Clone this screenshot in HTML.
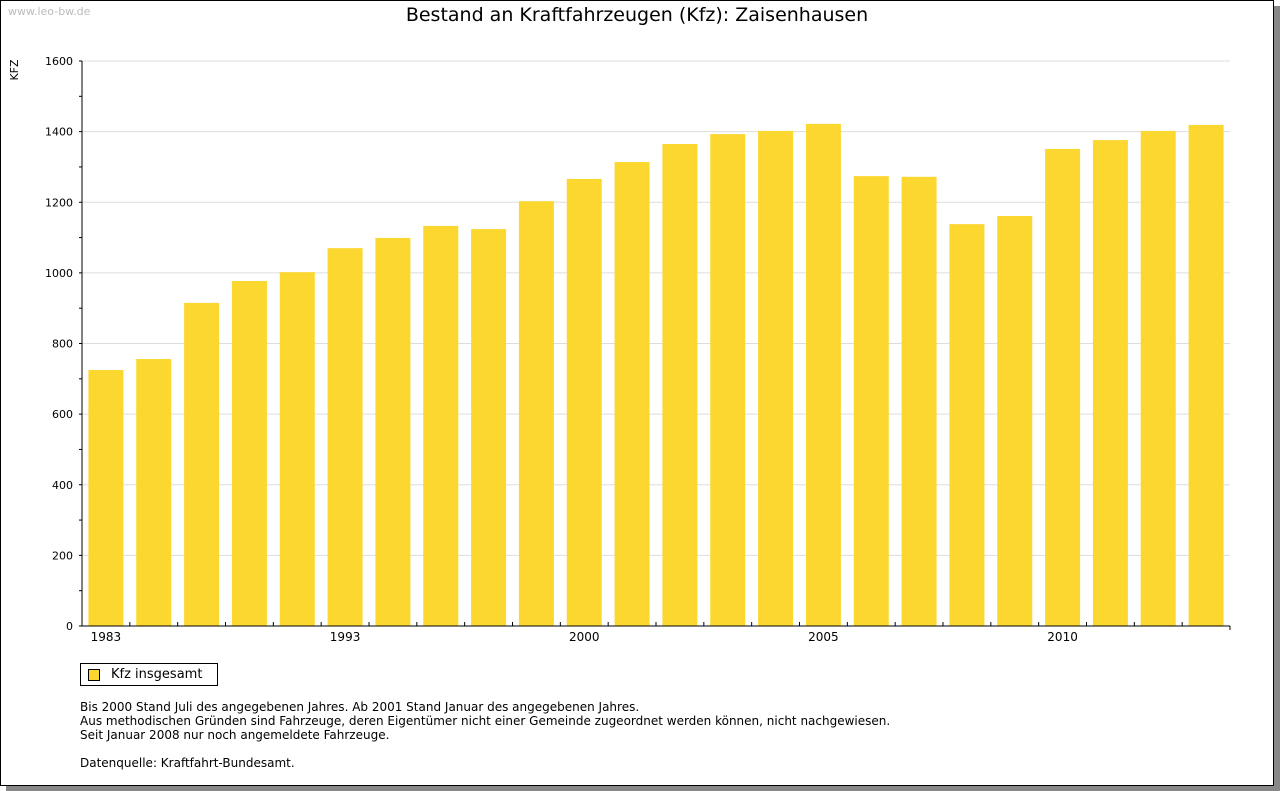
<!DOCTYPE html>
<html><head><meta charset="utf-8"><style>
body{margin:0;background:#fff;font-family:"DejaVu Sans","Liberation Sans",sans-serif;}
#frame{position:absolute;left:0;top:0;width:1272px;height:784px;border:1px solid #000;background:#fff;box-shadow:6px 6px 0 #888;}
.t{position:absolute;white-space:nowrap;}
</style></head><body>
<div id="frame"></div>
<div class="t" style="left:8px;top:5px;font-size:11px;color:#bbb">www.leo-bw.de</div>
<div class="t" style="left:0;width:1274px;top:4px;text-align:center;font-size:19px;color:#000">Bestand an Kraftfahrzeugen (Kfz): Zaisenhausen</div>
<svg width="1280" height="791" style="position:absolute;left:0;top:0" id="chart">
<text x="15" y="70" transform="rotate(-90 15 70)" font-size="11" text-anchor="middle" dominant-baseline="middle" font-family="DejaVu Sans,sans-serif">KFZ</text>
</svg>
<div class="t" style="left:80px;top:663px;width:136px;height:21px;border:1px solid #000">
<span style="position:absolute;left:7px;top:5px;width:10px;height:10px;background:#fcd72f;border:1px solid #000"></span>
<span style="position:absolute;left:30px;top:3px;font-size:13px">Kfz insgesamt</span></div>
<div class="t" style="left:80px;top:700px;font-size:12px;line-height:14px">Bis 2000 Stand Juli des angegebenen Jahres. Ab 2001 Stand Januar des angegebenen Jahres.<br>Aus methodischen Gründen sind Fahrzeuge, deren Eigentümer nicht einer Gemeinde zugeordnet werden können, nicht nachgewiesen.<br>Seit Januar 2008 nur noch angemeldete Fahrzeuge.<br><br>Datenquelle: Kraftfahrt-Bundesamt.</div>
<script>
const categories=["1983","1985","1987","1989","1991","1993","1995","1996","1997","1998","2000","2001","2002","2003","2004","2005","2006","2007","2008","2009","2010","2011","2012","2013"];
const values=[725,756,915,977,1002,1070,1099,1133,1124,1203,1266,1314,1365,1393,1402,1422,1274,1272,1138,1161,1351,1376,1402,1419];
const yTicks=[0,200,400,600,800,1000,1200,1400,1600];
const xLabels=["1983","1993","2000","2005","2010"];
const svg=document.getElementById('chart');const NS="http://www.w3.org/2000/svg";
const X0=82,X1=1230,Y0=626,Y1=61,YMAX=1600;
const y=v=>Y0-(v/YMAX)*(Y0-Y1);
const step=(X1-X0)/categories.length;
const xc=i=>X0+step*(i+0.5);
function mk(t,a){const e=document.createElementNS(NS,t);for(const k in a)e.setAttribute(k,a[k]);svg.appendChild(e);return e;}
yTicks.forEach(v=>{
 if(v>0){const g=mk('line',{x1:X0,x2:X1,y1:y(v),y2:y(v),stroke:'#ddd'});}
 const t=mk('text',{x:73,y:y(v)+4,'font-size':11,'text-anchor':'end','font-family':'DejaVu Sans,sans-serif'});t.textContent=v;
 
 mk('line',{x1:X0-3,x2:X0,y1:y(v),y2:y(v),stroke:'#000'});
 if(v<YMAX)mk('line',{x1:X0-3,x2:X0,y1:y(v+100),y2:y(v+100),stroke:'#000'});
});
values.forEach((v,i)=>{
 const r=mk('rect',{x:xc(i)-17.5,y:y(v),width:35,height:Y0-y(v),fill:'#fcd72f'});
 
 
 if(i>0)mk('line',{x1:X0+step*i,x2:X0+step*i,y1:Y0-4,y2:Y0,stroke:'#000'});
 if(xLabels.includes(categories[i])){const t=mk('text',{x:xc(i),y:Y0+15,'font-size':12,'text-anchor':'middle','font-family':'DejaVu Sans,sans-serif'});t.textContent=categories[i];
 }
});
const ax=mk('line',{x1:X0,x2:X0,y1:Y1,y2:Y0,stroke:'#000'});
const bx=mk('line',{x1:X0-3,x2:X1,y1:Y0,y2:Y0,stroke:'#000'});
mk('line',{x1:X1,x2:X1,y1:Y0,y2:Y0+4,stroke:'#000'});
</script>
</body></html>
